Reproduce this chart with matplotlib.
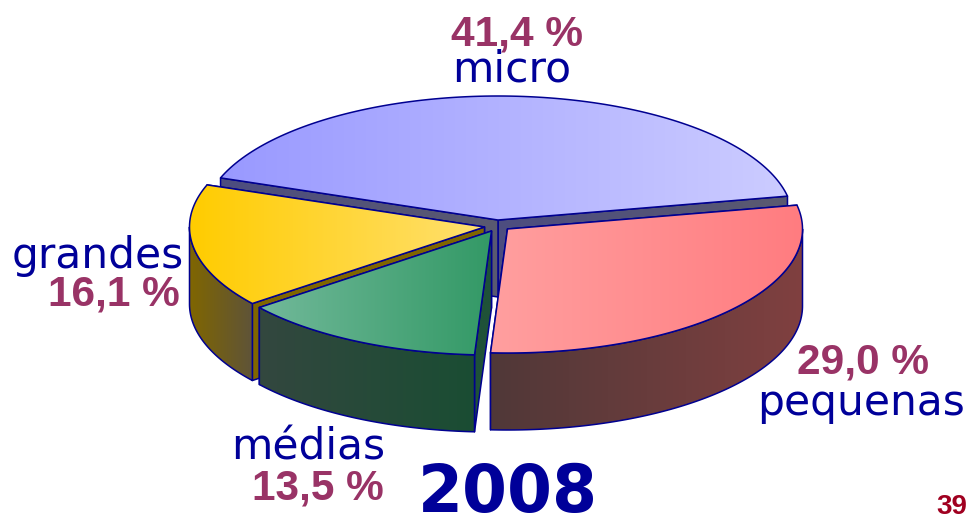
import numpy as np
import matplotlib
matplotlib.use('Agg')
import matplotlib.pyplot as plt
from matplotlib.colors import LinearSegmentedColormap
from matplotlib.patches import Polygon

# values, in the order they go round the pie (counter clockwise)
labels = ['micro', 'grandes', 'médias', 'pequenas']
values = [41.4, 16.1, 13.5, 29.0]
value_labels = ['41,4 %', '16,1 %', '13,5 %', '29,0 %']
year = '2008'
page = '39'

# pie geometry, in pixels
start_angle = 11.1
rx = 295
ry = 124
depth = 77
apex = {'micro': (498, 220), 'grandes': (484.5, 227), 'médias': (491.5, 231), 'pequenas': (507.5, 229)}

top_colors = {'micro': ('#9999FF', '#CCCCFF'), 'grandes': ('#FFCC00', '#FFE070'),
              'médias': ('#72B99A', '#339966'), 'pequenas': ('#FF9F9F', '#FF7C80')}
wall_colors = {'micro': ('#4D4D80', '#4D4D80'), 'grandes': ('#806600', '#5F5438'),
               'médias': ('#33473F', '#1A4D33'), 'pequenas': ('#503838', '#804040')}
cut_colors = {'micro': ('#4D4D80', '#5A5A70'), 'grandes': ('#806600', '#806600'),
              'médias': ('#1F5238', '#1F5238'), 'pequenas': ('#503838', '#503838')}
edge = '#000090'
pct_color = '#993366'
name_color = '#000099'

fig = plt.figure(figsize=(9.7, 5.15), dpi=100)
ax = fig.add_axes([0, 0, 1, 1])
layer = [1]


def arc(center, a0, a1, dy=0):
    t = np.radians(np.linspace(a0, a1, 120))
    return np.column_stack([center[0] + rx * np.cos(t), center[1] - ry * np.sin(t) + dy])


def fill(points, colors):
    # horizontal gradient clipped to the polygon, then the outline on top
    x0, x1 = points[:, 0].min(), points[:, 0].max()
    y0, y1 = points[:, 1].min(), points[:, 1].max()
    cmap = LinearSegmentedColormap.from_list('g', colors)
    im = ax.imshow(np.linspace(0, 1, 256).reshape(1, -1), cmap=cmap, aspect='auto',
                   extent=[x0, max(x1, x0 + 1), y1, y0], zorder=layer[0], interpolation='bilinear')
    outline = Polygon(points, closed=True, facecolor='none', edgecolor=edge, lw=1.1,
                      joinstyle='round', zorder=layer[0] + 1)
    ax.add_patch(outline)
    im.set_clip_path(outline)
    layer[0] += 2


def draw_slice(name, a0, a1):
    c = apex[name]
    # cut faces
    for a in (a0, a1):
        p = arc(c, a, a)[0]
        face = np.array([c, p, p + [0, depth], np.array(c) + [0, depth]])
        fill(face, cut_colors[name])
    # outer wall, only the part facing us
    w0, w1 = max(a0, 180), min(a1, 360)
    if w1 > w0:
        wall = np.vstack([arc(c, w0, w1), arc(c, w1, w0, depth)])
        fill(wall, wall_colors[name])
    top = np.vstack([[c], arc(c, a0, a1)])
    fill(top, top_colors[name])


angles = start_angle + np.concatenate([[0], np.cumsum(values)]) * 3.6
for k, name in enumerate(labels):
    draw_slice(name, angles[k], angles[k + 1])

ax.set_xlim(0, 970)
ax.set_ylim(515, 0)
ax.axis('off')

regular = dict(family='DejaVu Sans', color=name_color, fontsize=30.5, zorder=300)
bold = dict(family='Liberation Sans', weight='bold', color=pct_color, fontsize=30.5, zorder=300)

ax.text(517, 45, value_labels[0], ha='center', va='baseline', **bold)
ax.text(512, 82, labels[0], ha='center', va='baseline', **regular)
ax.text(184, 268, labels[1], ha='right', va='baseline', **regular)
ax.text(180, 305, value_labels[1], ha='right', va='baseline', **bold)
ax.text(385, 459, labels[2], ha='right', va='baseline', **regular)
ax.text(384, 500, value_labels[2], ha='right', va='baseline', **bold)
ax.text(863, 373, value_labels[3], ha='center', va='baseline', **bold)
ax.text(861, 415, labels[3], ha='center', va='baseline', **regular)
ax.text(508, 512, year, ha='center', va='baseline', family='DejaVu Sans', weight='bold',
        color=name_color, fontsize=46.5, zorder=300)
ax.text(936, 514, page, ha='left', va='baseline', family='Liberation Sans', weight='bold',
        color='#A00020', fontsize=20, zorder=300)

fig.savefig('out.png', dpi=100)
